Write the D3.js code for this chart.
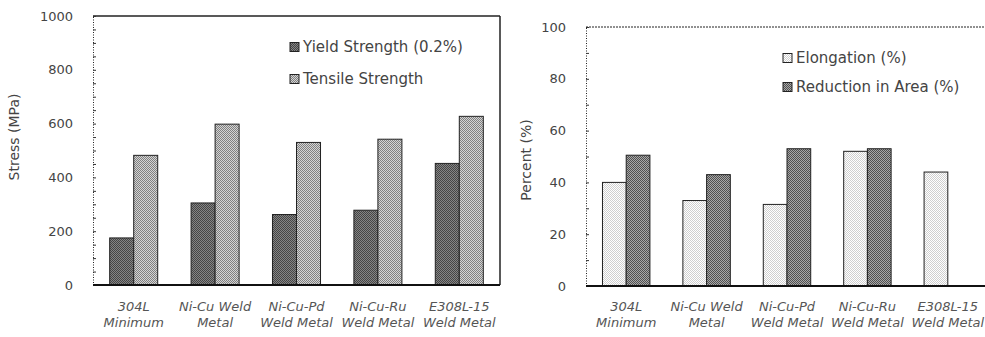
<!DOCTYPE html>
<html>
<head>
<meta charset="utf-8">
<script src="https://cdn.jsdelivr.net/npm/d3@7"></script>
<style>
  body { margin: 0; background: #fff; }
  svg { display: block; font-family: "DejaVu Sans", sans-serif; }
</style>
</head>
<body>
<svg id="chart" width="985" height="337"></svg>
<script>
// categories and values
const categories = ["304L Minimum", "Ni-Cu Weld Metal", "Ni-Cu-Pd Weld Metal", "Ni-Cu-Ru Weld Metal", "E308L-15 Weld Metal"];
const catLines = [["304L", "Minimum"], ["Ni-Cu Weld", "Metal"], ["Ni-Cu-Pd", "Weld Metal"], ["Ni-Cu-Ru", "Weld Metal"], ["E308L-15", "Weld Metal"]];

const yieldStrength = [175, 305, 262, 278, 452];
const tensileStrength = [482, 598, 530, 542, 627];
const elongation = [40, 33, 31.5, 52, 44];
const reductionArea = [50.5, 43, 53, 53, null];

const stressTicks = [0, 200, 400, 600, 800, 1000];
const percentTicks = [0, 20, 40, 60, 80, 100];

const svg = d3.select("#chart");
const defs = svg.append("defs");

// checker style fills to mimic the scanned hatching
function checker(id, base, dot) {
  const p = defs.append("pattern")
    .attr("id", id)
    .attr("patternUnits", "userSpaceOnUse")
    .attr("width", 2).attr("height", 2);
  p.append("rect").attr("width", 2).attr("height", 2).attr("fill", base);
  p.append("rect").attr("width", 1).attr("height", 1).attr("fill", dot);
  p.append("rect").attr("x", 1).attr("y", 1).attr("width", 1).attr("height", 1).attr("fill", dot);
}
checker("pYield", "#858585", "#454545");
checker("pTensile", "#d4d4d4", "#808080");
checker("pElong", "#ffffff", "#cfcfcf");
checker("pRA", "#a8a8a8", "#505050");

function drawChart(cfg) {
  const g = svg.append("g");

  const x = d3.scaleBand()
    .domain(categories)
    .range([cfg.x0, cfg.x1])
    .paddingInner(0.41)
    .paddingOuter(0.205);

  const xs = d3.scaleBand()
    .domain(cfg.series.map(s => s.name))
    .range([0, x.bandwidth()]);

  const y = d3.scaleLinear()
    .domain([0, cfg.max])
    .range([cfg.y1, cfg.y0]);

  // bars
  cfg.series.forEach(s => {
    g.append("g").selectAll("rect")
      .data(s.values.map((v, i) => ({ cat: categories[i], v: v })).filter(d => d.v != null))
      .enter()
      .append("rect")
      .attr("x", d => x(d.cat) + xs(s.name))
      .attr("y", d => y(d.v))
      .attr("width", xs.bandwidth())
      .attr("height", d => y(0) - y(d.v))
      .attr("fill", "url(#" + s.fill + ")")
      .attr("stroke", "#222")
      .attr("stroke-width", 1);
  });

  // frame
  g.append("line")
    .attr("x1", cfg.x0).attr("x2", cfg.x1)
    .attr("y1", cfg.y0).attr("y2", cfg.y0)
    .attr("stroke", "#222")
    .attr("stroke-width", cfg.solidTop ? 1.5 : 1)
    .attr("stroke-dasharray", cfg.solidTop ? null : "2,1");
  if (cfg.rightBorder) {
    g.append("line")
      .attr("x1", cfg.x1).attr("x2", cfg.x1)
      .attr("y1", cfg.y0).attr("y2", cfg.y1)
      .attr("stroke", "#222").attr("stroke-width", 1.5);
  }

  // left axis, dotted with inward ticks
  const yAxis = g.append("g")
    .attr("transform", "translate(" + cfg.x0 + ",0)")
    .call(d3.axisRight(y).tickValues(cfg.minor).tickSize(3).tickFormat(""));
  yAxis.select(".domain").attr("stroke", "#222").attr("stroke-dasharray", "1,1.5");
  yAxis.selectAll(".tick line").attr("stroke", "#333");

  g.append("g")
    .selectAll("text")
    .data(cfg.ticks)
    .enter()
    .append("text")
    .attr("x", cfg.x0 - 20)
    .attr("y", d => y(d))
    .attr("dy", "0.35em")
    .attr("text-anchor", "end")
    .attr("font-size", 13)
    .attr("fill", "#444")
    .text(d => d);

  // bottom axis
  g.append("line")
    .attr("x1", cfg.x0).attr("x2", cfg.x1)
    .attr("y1", cfg.y1).attr("y2", cfg.y1)
    .attr("stroke", "#111").attr("stroke-width", 2);

  // category labels
  const labels = g.append("g")
    .selectAll("text")
    .data(categories)
    .enter()
    .append("text")
    .attr("x", d => x(d) + x.bandwidth() / 2)
    .attr("y", 311)
    .attr("text-anchor", "middle")
    .attr("font-size", 13)
    .attr("font-style", "italic")
    .attr("fill", "#555");
  labels.each(function(d, i) {
    const t = d3.select(this);
    catLines[i].forEach((line, j) => {
      t.append("tspan")
        .attr("x", x(d) + x.bandwidth() / 2)
        .attr("dy", j === 0 ? 0 : 16)
        .text(line);
    });
  });

  // y title
  g.append("text")
    .attr("transform", "translate(" + cfg.titleX + "," + cfg.titleY + ") rotate(-90)")
    .attr("text-anchor", "middle")
    .attr("dy", "0.35em")
    .attr("font-size", 14)
    .attr("fill", "#444")
    .text(cfg.title);

  // legend
  const leg = g.append("g").selectAll("g")
    .data(cfg.series)
    .enter()
    .append("g")
    .attr("transform", (d, i) => "translate(" + cfg.legX + "," + (cfg.legY + i * cfg.legStep) + ")");
  leg.append("rect")
    .attr("x", 0).attr("y", -4.5)
    .attr("width", 9).attr("height", 9)
    .attr("fill", d => "url(#" + d.fill + ")")
    .attr("stroke", "#222");
  leg.append("text")
    .attr("x", 13)
    .attr("dy", "0.35em")
    .attr("font-size", 15)
    .attr("fill", "#444")
    .text(d => d.name);
}

drawChart({
  x0: 93, x1: 500, y0: 16, y1: 285, max: 1000,
  ticks: stressTicks, minor: d3.range(0, 1001, 50),
  solidTop: true, rightBorder: true,
  title: "Stress (MPa)", titleX: 14, titleY: 137,
  series: [
    { name: "Yield Strength (0.2%)", values: yieldStrength, fill: "pYield" },
    { name: "Tensile Strength", values: tensileStrength, fill: "pTensile" }
  ],
  legX: 290, legY: 47, legStep: 32
});

drawChart({
  x0: 586, x1: 988, y0: 27, y1: 286, max: 100,
  ticks: percentTicks, minor: d3.range(0, 101, 10),
  solidTop: false, rightBorder: false,
  title: "Percent (%)", titleX: 526, titleY: 160,
  series: [
    { name: "Elongation (%)", values: elongation, fill: "pElong" },
    { name: "Reduction in Area (%)", values: reductionArea, fill: "pRA" }
  ],
  legX: 783, legY: 58, legStep: 29
});
</script>
</body>
</html>
